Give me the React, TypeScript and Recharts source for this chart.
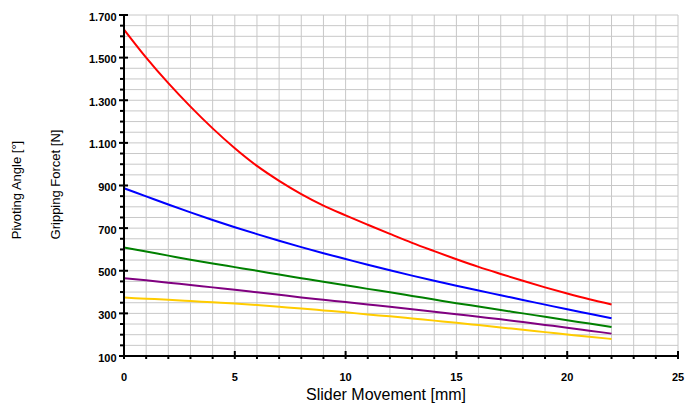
import { CartesianGrid, Label, Line, LineChart, XAxis, YAxis } from "recharts";

// slider travel in mm
const sliderMm = [0, 1, 2, 3, 4, 5, 6, 7, 8, 9, 10, 11, 12, 13, 14, 15, 16, 17, 18, 19, 20, 21, 22];

// gripping force curves [N]
const redForce = [1632, 1500, 1380, 1270, 1168, 1075, 992, 922, 860, 806, 760, 716, 673, 631, 592, 554, 518, 485, 453, 422, 393, 366, 342];
const blueForce = [887, 849, 811, 774, 738, 704, 672, 641, 611, 582, 555, 528, 502, 477, 453, 430, 407, 385, 363, 341, 319, 298, 277];
const greenForce = [609, 590, 571, 552, 534, 517, 500, 482, 465, 448, 432, 415, 399, 382, 365, 348, 332, 316, 300, 284, 268, 252, 236];
const purpleForce = [465, 455, 444, 433, 422, 411, 399, 387, 375, 364, 353, 342, 331, 319, 308, 296, 284, 272, 259, 246, 233, 219, 205];
const yellowForce = [374, 369, 364, 358, 352, 346, 339, 331, 323, 314, 305, 295, 286, 276, 266, 256, 245, 234, 223, 212, 201, 190, 180];

const xTicks = [0, 1, 2, 3, 4, 5, 6, 7, 8, 9, 10, 11, 12, 13, 14, 15, 16, 17, 18, 19, 20, 21, 22, 23, 24, 25];
const yTicks = [
  100, 150, 200, 250, 300, 350, 400, 450, 500, 550, 600, 650, 700, 750, 800, 850, 900, 950, 1000, 1050, 1100, 1150,
  1200, 1250, 1300, 1350, 1400, 1450, 1500, 1550, 1600, 1650, 1700,
];
const xMajor = [0, 5, 10, 15, 20, 25];
const yMajor = [100, 300, 500, 700, 900, 1100, 1300, 1500, 1700];

const rows = sliderMm.map((x, i) => ({
  x,
  red: redForce[i],
  blue: blueForce[i],
  green: greenForce[i],
  purple: purpleForce[i],
  yellow: yellowForce[i],
}));

const font = '"Liberation Sans", Arial, sans-serif';

const fmt = (v: number) => v.toString().replace(/\B(?=(\d{3})+(?!\d))/g, ".");

function XTick(props: any) {
  const { x, y, payload } = props;
  const major = xMajor.includes(payload.value);
  return (
    <g>
      <line x1={x} x2={x} y1={major ? y - 5 : y} y2={y + 3} stroke="#000" strokeWidth={2} />
      {major && (
        <text x={x} y={y + 24.7} textAnchor="middle" fontFamily={font} fontWeight="bold" fontSize={11} fill="#000">
          {payload.value}
        </text>
      )}
    </g>
  );
}

function YTick(props: any) {
  const { x, y, payload } = props;
  const major = yMajor.includes(payload.value);
  return (
    <g>
      <line x1={x - (major ? 5 : 4)} x2={major ? x + 4 : x} y1={y} y2={y} stroke="#000" strokeWidth={2} />
      {major && (
        <text x={x - 7.5} y={y + 5.5} textAnchor="end" fontFamily={font} fontWeight="bold" fontSize={11} fill="#000">
          {fmt(payload.value)}
        </text>
      )}
    </g>
  );
}

export default function App() {
  return (
    <div style={{ position: "absolute", left: 0, top: 0, width: 692, height: 405, background: "#fff" }}>
      <LineChart width={692} height={405} data={rows} margin={{ top: 15, right: 14, bottom: 0, left: 0 }}>
        <CartesianGrid stroke="#c8c8c8" strokeWidth={1} />
        <XAxis
          dataKey="x"
          type="number"
          domain={[0, 25]}
          ticks={xTicks}
          interval={0}
          tickSize={0}
          tickMargin={0}
          tickLine={false}
          axisLine={{ stroke: "#000", strokeWidth: 2 }}
          tick={<XTick />}
          height={49}
        >
          <Label
            content={(p: any) => {
              const vb = p.viewBox || { x: 124, width: 554, y: 356 };
              return (
                <text
                  x={vb.x + vb.width / 2 - 15}
                  y={vb.y + 44}
                  textAnchor="middle"
                  fontFamily={font}
                  fontSize={16}
                  fill="#000"
                >
                  Slider Movement [mm]
                </text>
              );
            }}
          />
        </XAxis>
        <YAxis
          type="number"
          domain={[100, 1700]}
          ticks={yTicks}
          interval={0}
          width={124}
          tickSize={0}
          tickMargin={0}
          tickLine={false}
          axisLine={{ stroke: "#000", strokeWidth: 2 }}
          tick={<YTick />}
        >
          <Label
            content={(p: any) => {
              const vb = p.viewBox || { y: 15, height: 341 };
              const cy = vb.y + vb.height / 2;
              return (
                <g>
                  <text
                    x={21.2}
                    y={cy + 4.5}
                    textAnchor="middle"
                    fontFamily={font}
                    fontSize={13}
                    fill="#000"
                    transform={`rotate(-90, 21.2, ${cy + 4.5})`}
                  >
                    Pivoting Angle [°]
                  </text>
                  <text
                    x={59.9}
                    y={cy - 1}
                    textAnchor="middle"
                    fontFamily={font}
                    fontSize={13}
                    fill="#000"
                    transform={`rotate(-90, 59.9, ${cy - 1})`}
                  >
                    Gripping Forcet [N]
                  </text>
                </g>
              );
            }}
          />
        </YAxis>
        <Line type="monotone" dataKey="red" stroke="#ff0000" strokeWidth={2} dot={false} isAnimationActive={false} />
        <Line type="monotone" dataKey="blue" stroke="#0000ff" strokeWidth={2} dot={false} isAnimationActive={false} />
        <Line type="monotone" dataKey="green" stroke="#008000" strokeWidth={2} dot={false} isAnimationActive={false} />
        <Line type="monotone" dataKey="purple" stroke="#800080" strokeWidth={2} dot={false} isAnimationActive={false} />
        <Line type="monotone" dataKey="yellow" stroke="#ffcc00" strokeWidth={2} dot={false} isAnimationActive={false} />
      </LineChart>
    </div>
  );
}
